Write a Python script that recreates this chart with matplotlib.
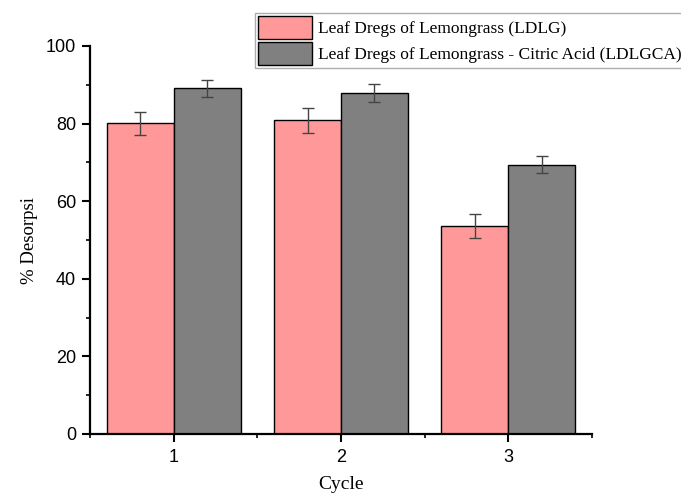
import matplotlib
matplotlib.use("Agg")
import matplotlib.pyplot as plt
import numpy as np
from matplotlib.ticker import MultipleLocator

cycles = [1, 2, 3]
ldlg = [80.1, 80.8, 53.7]
ldlg_err = [3.0, 3.1, 3.1]
ldlgca = [89.1, 87.9, 69.4]
ldlgca_err = [2.2, 2.3, 2.2]
labels = ["Leaf Dregs of Lemongrass (LDLG)",
          "Leaf Dregs of Lemongrass - Citric Acid (LDLGCA)"]

W, H = 681, 493
fig = plt.figure(figsize=(W/100, H/100), dpi=100)
ax = fig.add_axes([90/W, 59/H, (592-90)/W, (434-46)/H])

x = np.array(cycles, dtype=float)
w = 0.4
ax.bar(x - w/2, ldlg, width=w, color="#FF9999", edgecolor="black", linewidth=1.0, label=labels[0], zorder=2)
ax.bar(x + w/2, ldlgca, width=w, color="#808080", edgecolor="black", linewidth=1.0, label=labels[1], zorder=2)
ax.errorbar(x - w/2, ldlg, yerr=ldlg_err, fmt="none", ecolor="#444444", elinewidth=1.0, capsize=4, capthick=1.0, zorder=3)
ax.errorbar(x + w/2, ldlgca, yerr=ldlgca_err, fmt="none", ecolor="#444444", elinewidth=1.0, capsize=4, capthick=1.0, zorder=3)

ax.set_xlim(0.5, 3.5)
ax.set_ylim(0, 100)
ax.set_xticks(cycles)
ax.set_xticks([0.5, 1.5, 2.5, 3.5], minor=True)
ax.yaxis.set_major_locator(MultipleLocator(20))
ax.yaxis.set_minor_locator(MultipleLocator(10))

for s in ["top", "right"]:
    ax.spines[s].set_visible(False)
for s in ["left", "bottom"]:
    ax.spines[s].set_linewidth(1.6)

ax.tick_params(axis="both", which="major", direction="out", length=6, width=1.5, labelsize=13)
ax.tick_params(axis="x", which="major", pad=5)
ax.tick_params(axis="y", which="major", pad=4)
ax.tick_params(axis="both", which="minor", direction="out", length=3, width=1.2)
for lab in ax.get_xticklabels() + ax.get_yticklabels():
    lab.set_fontfamily("Liberation Sans")

ax.set_xlabel("Cycle", fontfamily="Liberation Serif", fontsize=14, labelpad=7)
ax.set_ylabel("% Desorpsi", fontfamily="Liberation Serif", fontsize=13.5, labelpad=6)

leg = ax.legend(loc="upper left", bbox_to_anchor=(255/W, 1 - 13/H), bbox_transform=fig.transFigure,
                prop={"family": "Liberation Serif", "size": 12.5}, frameon=True, fancybox=False,
                edgecolor="#999999", handlelength=3.1, handleheight=1.6, handletextpad=0.3,
                borderpad=0.2, labelspacing=0.2, borderaxespad=0)
leg.get_frame().set_linewidth(1.0)

fig.savefig("out.png", dpi=100)
